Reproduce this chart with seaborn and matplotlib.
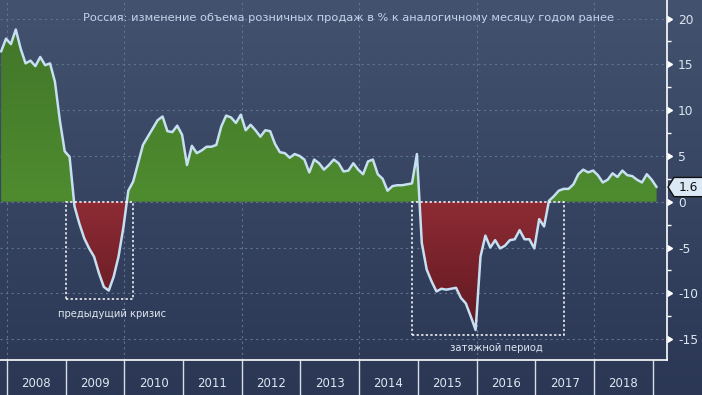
import numpy as np
import pandas as pd
import seaborn as sns
import matplotlib.pyplot as plt
from matplotlib.colors import LinearSegmentedColormap
from matplotlib.path import Path
from matplotlib.patches import PathPatch, Polygon, Rectangle

# Data (monthly y/y %, Nov 2007 - Jan 2019)
title = "Россия: изменение объема розничных продаж в % к аналогичному месяцу годом ранее"
start_month = "2007-11"
values = [
    16.4, 17.8,
    17.2, 18.8, 16.7, 15.1, 15.4, 14.8, 15.8, 14.9, 15.1, 13.1, 8.9, 5.5,          # 2008
    4.9, -0.5, -2.4, -4.0, -5.1, -6.0, -7.8, -9.3, -9.7, -8.2, -6.0, -2.8,        # 2009
    1.2, 2.2, 4.2, 6.2, 7.1, 8.0, 8.9, 9.3, 7.7, 7.6, 8.3, 7.3,                   # 2010
    4.0, 6.1, 5.3, 5.6, 6.0, 6.0, 6.2, 8.2, 9.4, 9.2, 8.6, 9.5,                   # 2011
    7.8, 8.4, 7.8, 7.1, 7.8, 7.7, 6.3, 5.4, 5.3, 4.8, 5.2, 5.0,                   # 2012
    4.6, 3.2, 4.6, 4.2, 3.5, 4.0, 4.6, 4.2, 3.3, 3.4, 4.2, 3.5,                   # 2013
    3.0, 4.4, 4.6, 3.0, 2.5, 1.2, 1.7, 1.8, 1.8, 1.9, 2.0, 5.2,                   # 2014
    -4.5, -7.4, -8.7, -9.8, -9.5, -9.6, -9.5, -9.4, -10.5, -11.1, -12.5, -14.0,   # 2015
    -6.0, -3.7, -5.0, -4.2, -5.1, -4.8, -4.2, -4.1, -3.1, -4.1, -4.1, -5.1,       # 2016
    -1.9, -2.7, 0.1, 0.6, 1.2, 1.4, 1.4, 1.9, 3.0, 3.5, 3.2, 3.4,                 # 2017
    2.9, 2.1, 2.4, 3.1, 2.7, 3.4, 2.9, 2.8, 2.4, 2.1, 3.0, 2.4,                   # 2018
    1.6,                                                                          # 2019
]
years = list(range(2008, 2019))
yticks = [-15, -10, -5, 0, 5, 10, 15, 20]
last_label = "1.6"
note_crisis = "предыдущий кризис"
note_long = "затяжной период"

# colours
LINE = "#c6dff1"
GRID = "#60738f"
TXT = "#dde6f0"

months = pd.period_range(start_month, periods=len(values), freq="M")
t = np.asarray(months.year + (months.month - 0.2) / 12.0, dtype=float)
y = np.asarray(values, dtype=float)
df = pd.DataFrame({"t": t, "value": y})

sns.set_theme(style="ticks")
plt.rcParams["font.family"] = ["DejaVu Sans"]

fig = plt.figure(figsize=(7.02, 3.95), dpi=100)

# background gradient over the whole figure
bg = fig.add_axes([0, 0, 1, 1])
bg.imshow(np.linspace(0, 1, 256).reshape(-1, 1), aspect="auto", extent=[0, 1, 0, 1],
          cmap=LinearSegmentedColormap.from_list("bg", ["#42526f", "#2b3754"]))
bg.set_axis_off()
bg.set_zorder(-5)

ax = fig.add_axes([0, 35 / 395, 667 / 702, 360 / 395])
ax.patch.set_alpha(0)


def grad_fill(where, c_top, c_bot, y_top, y_bot):
    coll = ax.fill_between(t, y, 0, where=where, interpolate=True,
                           facecolor="none", edgecolor="none")
    path = Path.make_compound_path(*coll.get_paths())
    patch = PathPatch(path, transform=ax.transData, facecolor="none", edgecolor="none")
    ax.add_patch(patch)
    cmap = LinearSegmentedColormap.from_list("f", [c_bot, c_top])
    im = ax.imshow(np.linspace(0, 1, 256).reshape(-1, 1), origin="lower", aspect="auto",
                   extent=[t.min(), t.max(), y_bot, y_top], cmap=cmap, zorder=1)
    im.set_clip_path(patch)


grad_fill(y >= 0, "#417529", "#4f8c2f", 20, 0)
grad_fill(y <= 0, "#8e2b34", "#5e1820", 0, -14.5)

sns.lineplot(data=df, x="t", y="value", ax=ax, color=LINE, linewidth=1.8, zorder=3)

# grid
for v in yticks:
    ax.axhline(v, color=GRID, lw=0.8, ls=(0, (2, 3)), zorder=0)
for yr in range(2008, 2019, 2):
    ax.axvline(yr, color=GRID, lw=0.8, ls=(0, (2, 3)), zorder=0)

ax.set_xlim(2007.881, 2019.244)
ax.set_ylim(-17.28, 22.02)
ax.set_xlabel("")
ax.set_ylabel("")

# annotation boxes
ax.add_patch(Rectangle((2009.005, -10.6), 1.142, 10.6, fill=False, ec="white",
                       lw=1.1, ls=(0, (1.5, 1.5)), zorder=4))
ax.add_patch(Rectangle((2014.9, -14.55), 2.59, 14.55, fill=False, ec="white",
                       lw=1.1, ls=(0, (1.5, 1.5)), zorder=4))
ax.text(2009.79, -12.3, note_crisis, color=TXT, fontsize=7.2, ha="center", va="center")
ax.text(2016.33, -16.0, note_long, color=TXT, fontsize=7.2, ha="center", va="center")

ax.text(0.522, 0.95, title, transform=ax.transAxes, color="#c3d4ea", fontsize=8.2,
        ha="center", va="center")

# spines
for s in ["left", "top"]:
    ax.spines[s].set_visible(False)
for s in ["right", "bottom"]:
    ax.spines[s].set_color("white")
    ax.spines[s].set_linewidth(1.2)

# x axis: year separators + centred labels
ax.set_xticks(range(2008, 2020))
ax.set_xticklabels([])
ax.set_xticks([yr + 0.5 for yr in years], minor=True)
ax.set_xticklabels([str(yr) for yr in years], minor=True)
ax.tick_params(axis="x", which="major", length=26, width=1, color="#d8dde6", direction="out")
ax.tick_params(axis="x", which="minor", length=0, pad=12, labelsize=8.5, labelcolor=TXT)

# y axis on the right
ax.yaxis.tick_right()
ax.set_yticks(yticks)
ax.set_yticklabels([str(v) for v in yticks])
ax.set_yticks([v + 2.5 for v in yticks[:-1]], minor=True)
ax.tick_params(axis="y", which="major", length=0, pad=8, labelsize=8.8, labelcolor=TXT)
ax.tick_params(axis="y", which="minor", length=3, width=1, color="white", direction="out")
ax.plot([1.0] * len(yticks), yticks, ls="", marker=9, ms=5, color="white",
        transform=ax.get_yaxis_transform(), clip_on=False, zorder=5)

# last value tag
tag = Polygon([(1.0015, 1.6), (1.0105, 2.65), (1.06, 2.65), (1.06, 0.55), (1.0105, 0.55)],
              closed=True, transform=ax.get_yaxis_transform(), clip_on=False,
              facecolor="#dbe9f7", edgecolor="#111111", lw=1, zorder=6)
ax.add_patch(tag)
ax.text(1.032, 1.6, last_label, transform=ax.get_yaxis_transform(), color="#111111",
        fontsize=8.8, ha="center", va="center", zorder=7)

fig.savefig("out.png", dpi=100)
